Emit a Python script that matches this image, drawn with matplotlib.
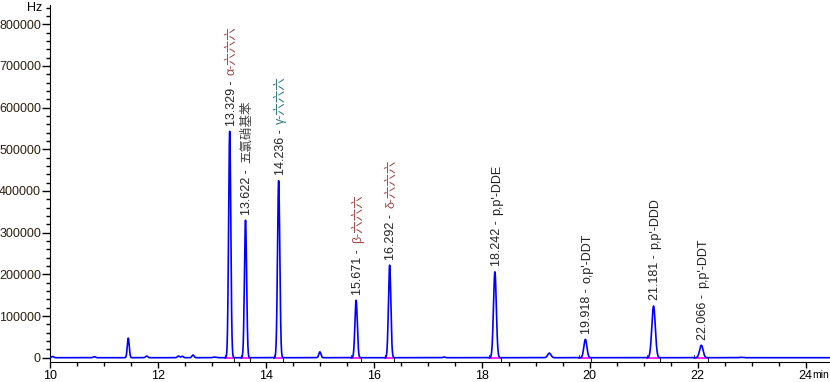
import numpy as np
import matplotlib
matplotlib.use('Agg')
import matplotlib.pyplot as plt
from matplotlib.ticker import MultipleLocator

plt.rcParams['font.family'] = ['Liberation Sans', 'Noto Sans CJK SC', 'DejaVu Sans']

# labelled peaks: retention time (min), height (Hz), width (sigma, min)
peak_rt = [13.329, 13.622, 14.236, 15.671, 16.292, 18.242, 19.918, 21.181, 22.066]
peak_h = [543000, 330000, 425000, 138000, 222000, 206000, 44000, 124000, 30000]
peak_w = [0.020, 0.020, 0.021, 0.022, 0.022, 0.026, 0.028, 0.032, 0.032]
peak_num = ['13.329 - ', '13.622 - ', '14.236 - ', '15.671 - ', '16.292 - ',
            '18.242 - ', '19.918 - ', '21.181 - ', '22.066 - ']
peak_name = ['α-六六六', '五氯硝基苯', 'γ-六六六', 'β-六六六', 'δ-六六六',
             "p,p'-DDE", "o,p'-DDT", "p,p'-DDD", "p,p'-DDT"]
name_col = ['#a04848', '#404040', '#2f7a7a', '#a04848', '#a04848',
            '#222222', '#222222', '#222222', '#222222']

# small unlabelled peaks
minor_rt = [10.05, 10.82, 11.45, 11.79, 12.38, 12.45, 12.65, 13.05, 15.00, 17.30, 19.25, 22.80]
minor_h = [3000, 2500, 47000, 4000, 4000, 3500, 6500, 1500, 14000, 1500, 11000, 1000]
minor_w = [0.02, 0.02, 0.018, 0.02, 0.02, 0.02, 0.02, 0.03, 0.02, 0.02, 0.03, 0.03]

t = np.linspace(10, 24.45, 6000)
sig = np.zeros_like(t)
for rt, h, w in zip(peak_rt + minor_rt, peak_h + minor_h, peak_w + minor_w):
    sig += h * np.exp(-0.5 * ((t - rt) / w) ** 2)

fig = plt.figure(figsize=(8.3, 3.82), dpi=100)
ax = fig.add_axes([50 / 830, 20 / 382, 780 / 830, 357 / 382])

ax.plot(t, sig, color='#0000ff', lw=1.2, zorder=3)

# integration baselines
for rt, w in zip(peak_rt, peak_w):
    a, b = rt - 4 * w, rt + 4 * w
    ax.plot([a, b], [0, 0], color='#ff00ff', lw=1.2, zorder=2)
    ax.plot([a, a], [0, 6000], color='#555555', lw=0.8, zorder=2)
    ax.plot([b, b], [-9000, 0], color='#222222', lw=0.8, zorder=2)

ax.set_xlim(10, 24.45)
ax.set_ylim(-10300, 846000)
ax.spines['top'].set_visible(False)
ax.spines['right'].set_visible(False)
ax.xaxis.set_major_locator(MultipleLocator(2))
ax.xaxis.set_minor_locator(MultipleLocator(0.5))
ax.yaxis.set_major_locator(MultipleLocator(100000))
ax.yaxis.set_minor_locator(MultipleLocator(20000))
ax.tick_params(axis='y', which='major', length=6, width=1, labelsize=9, pad=0.5)
ax.tick_params(axis='y', which='minor', length=3, width=1)
ax.tick_params(axis='x', which='major', length=4, width=1, labelsize=9, pad=2)
ax.tick_params(axis='x', which='minor', length=3, width=1)
ax.set_yticks(range(0, 800001, 100000))
ax.set_yticklabels([str(v) for v in range(0, 800001, 100000)])
for lab in ax.get_yticklabels():
    lab.set_color('#2a2010')

fig.text(42 / 830, 1 - 8 / 382, 'Hz', ha='right', va='center', fontsize=9)
fig.text(829 / 830, 1 - 375 / 382, 'min', ha='right', va='center', fontsize=7.5)

nums = []
for rt, h, num in zip(peak_rt, peak_h, peak_num):
    nums.append(ax.annotate(num, xy=(rt, h), xytext=(3.5, 4), textcoords='offset points',
                            rotation=90, rotation_mode='anchor', ha='left', va='baseline',
                            fontsize=9, color='#222222'))
fig.canvas.draw()
for txt, rt, h, name, col in zip(nums, peak_rt, peak_h, peak_name, name_col):
    bb = txt.get_window_extent()
    x0 = ax.transData.transform((rt, h))[0] + 3.5 * fig.dpi / 72
    fig.text(x0, bb.y1 + 2, name, transform=None, rotation=90, rotation_mode='anchor',
             ha='left', va='baseline', fontsize=9, color=col)

fig.savefig('out.png', dpi=100)
